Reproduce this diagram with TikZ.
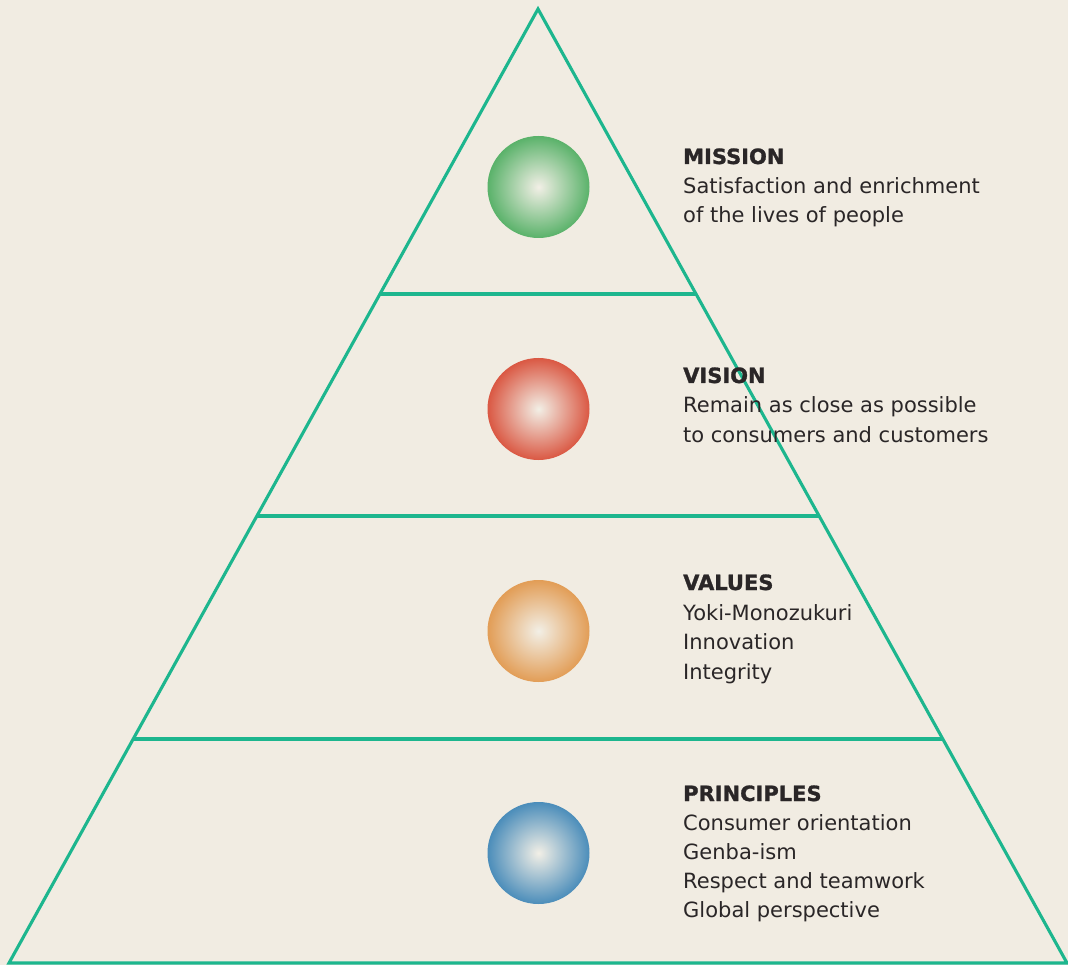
\documentclass[tikz,border=0pt]{standalone}
\usepackage{fontspec}
\setmainfont{DejaVu Sans}
\newfontfamily\headfont[FakeBold=1.3]{DejaVu Sans Bold}
\usetikzlibrary{calc}
\definecolor{bg}{HTML}{F1ECE2}
\definecolor{teal}{HTML}{1DB68E}
\definecolor{ink}{HTML}{2A2627}
\definecolor{cgreen}{HTML}{5AB26A}
\definecolor{cred}{HTML}{DA5843}
\definecolor{corange}{HTML}{E29D56}
\definecolor{cblue}{HTML}{4B8DBA}
\definecolor{ccenter}{HTML}{F2EFE6}
\tikzset{
  edge/.style={draw=teal, line width=3.1pt, line join=miter},
  ball/.style={circle, minimum size=102pt, inner sep=0pt, shading=radial, inner color=ccenter, outer color=#1},
  head/.style={anchor=base west, inner sep=0pt, text=ink, font=\fontsize{21}{25}\selectfont\headfont},
  body/.style={anchor=base west, inner sep=0pt, text=ink, font=\fontsize{21}{25}\selectfont},
}
\begin{document}
\begin{tikzpicture}[x=1pt,y=-1pt]
\fill[bg] (0,0) rectangle (1068,965);
\useasboundingbox (0,0) rectangle (1068,965);
\coordinate (apex) at (538,9);
\coordinate (bl) at (9,963);
\coordinate (br) at (1067,963);
\draw[edge] (apex) -- (bl) -- (br) -- cycle;
\coordinate (l1) at ($(apex)!0.29874!(bl)$);
\coordinate (r1) at ($(apex)!0.29874!(br)$);
\coordinate (l2) at ($(apex)!0.53145!(bl)$);
\coordinate (r2) at ($(apex)!0.53145!(br)$);
\coordinate (l3) at ($(apex)!0.76520!(bl)$);
\coordinate (r3) at ($(apex)!0.76520!(br)$);
\draw[edge] (l1) -- (r1);
\draw[edge] (l2) -- (r2);
\draw[edge] (l3) -- (r3);
\node[ball=cgreen] (b1) at (538.5,187) {};
\node[ball=cred] (b2) at (538.5,409) {};
\node[ball=corange] (b3) at (538.5,631) {};
\node[ball=cblue] (b4) at (538.5,853) {};
% Mission
\node[head] (h1) at (683,164) {MISSION};
\node[body] (t11) at (683,194) {Satisfaction and enrichment};
\node[body] (t12) at (683,223) {of the lives of people};
% Vision
\node[head] (h2) at (683,383) {VISION};
\node[body] (t21) at (683,413) {Remain as close as possible};
\node[body] (t22) at (683,442) {to consumers and customers};
% Values
\node[head] (h3) at (683,590) {VALUES};
\node[body] (t31) at (683,620) {Yoki-Monozukuri};
\node[body] (t32) at (683,649) {Innovation};
\node[body] (t33) at (683,679) {Integrity};
% Principles
\node[head] (h4) at (683,801) {PRINCIPLES};
\node[body] (t41) at (683,830) {Consumer orientation};
\node[body] (t42) at (683,859) {Genba-ism};
\node[body] (t43) at (683,888) {Respect and teamwork};
\node[body] (t44) at (683,917) {Global perspective};
\end{tikzpicture}
\end{document}
